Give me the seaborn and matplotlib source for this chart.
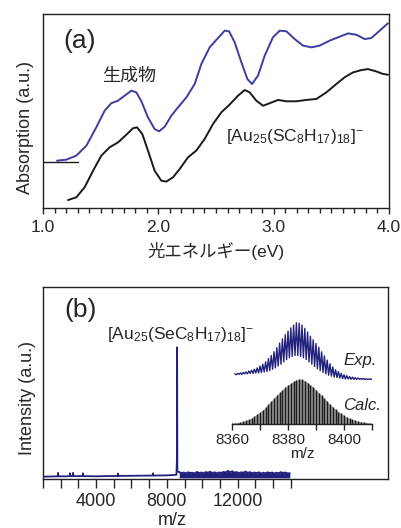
import numpy as np
import matplotlib
matplotlib.use('Agg')
import matplotlib.pyplot as plt
import seaborn as sns

# --- data ---
# (a) absorption spectra, photon energy (eV) vs absorption (a.u., 0-1 axis scale)
ev_product = [1.121, 1.202, 1.289, 1.376, 1.462, 1.535, 1.592, 1.650, 1.708, 1.766, 1.809,
              1.853, 1.910, 1.968, 2.006, 2.055, 2.113, 2.171, 2.243, 2.315, 2.373, 2.445,
              2.517, 2.575, 2.613, 2.662, 2.720, 2.772, 2.812, 2.864, 2.922, 2.994, 3.052,
              3.110, 3.182, 3.254, 3.327, 3.399, 3.486, 3.572, 3.645, 3.717, 3.789, 3.847,
              3.919, 3.991]
abs_product = [0.244, 0.249, 0.270, 0.321, 0.416, 0.502, 0.540, 0.553, 0.579, 0.605, 0.596,
               0.550, 0.467, 0.407, 0.395, 0.419, 0.476, 0.519, 0.570, 0.639, 0.742, 0.828,
               0.876, 0.914, 0.911, 0.854, 0.751, 0.665, 0.639, 0.682, 0.785, 0.880, 0.914,
               0.911, 0.871, 0.837, 0.828, 0.837, 0.863, 0.883, 0.900, 0.893, 0.871, 0.876,
               0.914, 0.952]
ev_ref = [1.217, 1.289, 1.361, 1.434, 1.506, 1.578, 1.650, 1.723, 1.780, 1.815, 1.861, 1.910,
          1.968, 2.026, 2.069, 2.127, 2.185, 2.257, 2.329, 2.402, 2.474, 2.546, 2.618, 2.691,
          2.749, 2.792, 2.850, 2.908, 2.965, 3.038, 3.110, 3.197, 3.283, 3.370, 3.457, 3.543,
          3.616, 3.688, 3.760, 3.818, 3.890, 3.948, 3.991]
abs_ref = [0.041, 0.055, 0.107, 0.192, 0.270, 0.313, 0.338, 0.378, 0.411, 0.416, 0.381, 0.296,
           0.192, 0.141, 0.136, 0.158, 0.201, 0.261, 0.296, 0.356, 0.433, 0.493, 0.533, 0.579,
           0.608, 0.596, 0.553, 0.527, 0.540, 0.557, 0.550, 0.550, 0.557, 0.562, 0.596, 0.639,
           0.674, 0.699, 0.711, 0.716, 0.704, 0.691, 0.687]
ev_baseline = [1.0, 1.303]
abs_baseline = [0.239, 0.239]

# (b) mass spectrum, m/z vs intensity (a.u.)
mz_low = [1000, 1400, 1830, 1850, 1870, 2300, 2510, 2530, 2550, 2680, 2700, 2720, 3240, 3260,
          3280, 4000, 4600, 5220, 5240, 5260, 6200, 7200, 7220, 7240, 8000, 8540]
int_low = [0.012, 0.013, 0.014, 0.032, 0.014, 0.014, 0.015, 0.03, 0.015, 0.015, 0.032, 0.015,
           0.015, 0.03, 0.015, 0.014, 0.015, 0.016, 0.028, 0.016, 0.017, 0.018, 0.03, 0.018,
           0.019, 0.022]
mz_peak = [8570, 8580, 8595]
int_peak = [0.1, 0.686, 0.04]
mz_high = np.arange(8700, 15001, 125)
int_high = [0.036, 0.031, 0.034, 0.030, 0.035, 0.032, 0.033, 0.029, 0.037, 0.031,
            0.034, 0.030, 0.036, 0.033, 0.038, 0.031, 0.035, 0.030, 0.034, 0.032,
            0.037, 0.034, 0.042, 0.036, 0.040, 0.033, 0.036, 0.031, 0.035, 0.033,
            0.039, 0.032, 0.036, 0.030, 0.034, 0.031, 0.035, 0.029, 0.033, 0.030,
            0.035, 0.031, 0.034, 0.029, 0.033, 0.030, 0.036, 0.031, 0.034, 0.030, 0.030]
band_floor = 0.006

# inset: isotope pattern
mz_calc = np.arange(8360, 8411)
int_calc = [0.02, 0.02, 0.03, 0.04, 0.06, 0.08, 0.10, 0.13, 0.17, 0.22,
            0.26, 0.31, 0.37, 0.44, 0.50, 0.57, 0.63, 0.69, 0.75, 0.80,
            0.85, 0.89, 0.93, 0.96, 0.98, 0.97, 0.94, 0.90, 0.85, 0.80,
            0.74, 0.68, 0.62, 0.56, 0.49, 0.43, 0.37, 0.32, 0.27, 0.23,
            0.19, 0.15, 0.12, 0.10, 0.08, 0.06, 0.05, 0.04, 0.03, 0.02, 0.02]
mz_exp_peaks = np.arange(8361, 8411)
int_exp_peaks = [1.09, 1.10, 1.11, 1.12, 1.13, 1.15, 1.17, 1.19, 1.22, 1.26,
                 1.30, 1.35, 1.42, 1.49, 1.57, 1.66, 1.76, 1.85, 1.94, 2.02,
                 2.09, 2.15, 2.20, 2.19, 2.15, 2.08, 2.00, 1.91, 1.83, 1.75,
                 1.67, 1.57, 1.48, 1.39, 1.31, 1.24, 1.18, 1.14, 1.10, 1.07,
                 1.05, 1.03, 1.02, 1.01, 1.00, 0.99, 0.99, 0.98, 0.98, 0.98]
mz_exp_troughs = np.arange(8361.5, 8410, 1.0)
int_exp_troughs = [1.07, 1.08, 1.08, 1.09, 1.09, 1.10, 1.10, 1.11, 1.11, 1.12,
                   1.13, 1.14, 1.16, 1.19, 1.22, 1.26, 1.30, 1.35, 1.40, 1.44,
                   1.47, 1.49, 1.49, 1.47, 1.44, 1.40, 1.35, 1.30, 1.25, 1.20,
                   1.16, 1.12, 1.09, 1.06, 1.04, 1.02, 1.01, 1.00, 0.99, 0.98,
                   0.98, 0.97, 0.97, 0.97, 0.97, 0.97, 0.97, 0.97, 0.97]

BLUE = '#3d3da0'
NAVY = '#22227e'
W, H = 401, 528

sns.set_theme(style='ticks')
plt.rcParams['font.family'] = ['Liberation Sans', 'Noto Sans CJK JP', 'DejaVu Sans']
plt.rcParams['mathtext.fontset'] = 'custom'
plt.rcParams['mathtext.rm'] = 'Liberation Sans'
plt.rcParams['mathtext.it'] = 'Liberation Sans:italic'
plt.rcParams['axes.linewidth'] = 1.0
plt.rcParams['axes.edgecolor'] = '#222222'


def fx(px):
    return px / W


def fy(py):
    return 1 - py / H


fig = plt.figure(figsize=(W / 100, H / 100), dpi=100)

# %% panel (a)
ax_a = fig.add_axes([fx(43), fy(208), (389 - 43) / W, (208 - 14) / H])
sns.lineplot(x=ev_product, y=abs_product, color=BLUE, lw=1.4, sort=False, estimator=None, ax=ax_a)
sns.lineplot(x=ev_ref, y=abs_ref, color='#1a1a1a', lw=1.4, sort=False, estimator=None, ax=ax_a)
sns.lineplot(x=ev_baseline, y=abs_baseline, color='#1a1a1a', lw=1.0, sort=False, estimator=None, ax=ax_a)
ax_a.set_xlim(1.0, 4.0)
ax_a.set_ylim(0, 1)
ax_a.set_xticks([1.0, 2.0, 3.0, 4.0])
ax_a.set_xticklabels(['1.0', '2.0', '3.0', '4.0'])
ax_a.set_xticks(np.arange(1.0, 4.01, 0.1), minor=True)
ax_a.set_yticks([])
ax_a.tick_params(axis='x', which='major', direction='out', length=4.5, width=1, labelsize=12.5, pad=4)
ax_a.tick_params(axis='x', which='minor', direction='out', length=3.5, width=1)
ax_a.set_xlabel('光エネルギー(eV)', fontsize=12.5, labelpad=5)
ax_a.set_ylabel('')

fig.text(fx(80), fy(41), '(a)', fontsize=19, ha='center', va='center')
fig.text(fx(129), fy(76), '生成物', fontsize=13, ha='center', va='center')
fig.text(fx(226), fy(137), r'[Au$_{25}$(SC$_{8}$H$_{17}$)$_{18}$]$^{-}$', fontsize=12.5,
         ha='left', va='center')
fig.text(fx(25), fy(128), 'Absorption (a.u.)', fontsize=13, rotation=90, ha='center', va='center')

# %% panel (b)
ax_b = fig.add_axes([fx(43), fy(479), (388 - 43) / W, (479 - 287) / H])
mz_all = list(mz_low) + list(mz_peak) + list(mz_high)
int_all = list(int_low) + list(int_peak) + list(int_high)
ax_b.fill_between(mz_high, band_floor, int_high, color=NAVY, lw=0)
sns.lineplot(x=mz_all, y=int_all, color=NAVY, lw=1.3, sort=False, estimator=None, ax=ax_b)
ax_b.set_xlim(1000, 20500)
ax_b.set_ylim(0, 1)
ax_b.set_xticks(np.arange(1000, 15001, 1000))
ax_b.set_xticklabels([str(v) if v in (4000, 8000, 12000) else '' for v in range(1000, 15001, 1000)])
ax_b.set_yticks([])
ax_b.tick_params(axis='x', direction='out', length=6.5, width=1, labelsize=13, pad=3.5)
ax_b.set_xlabel('m/z', fontsize=13, labelpad=0)
ax_b.xaxis.set_label_coords((172 - 43) / (388 - 43), -0.172)
ax_b.set_ylabel('')

fig.text(fx(81), fy(310), '(b)', fontsize=19, ha='center', va='center')
fig.text(fx(107), fy(335), r'[Au$_{25}$(SeC$_{8}$H$_{17}$)$_{18}$]$^{-}$', fontsize=12.5,
         ha='left', va='center')
fig.text(fx(27), fy(398), 'Intensity (a.u.)', fontsize=13, rotation=90, ha='center', va='center')

# %% inset
ax_in = fig.add_axes([fx(232), fy(424), (372 - 232) / W, (424 - 318) / H])
ax_in.patch.set_visible(False)
ax_in.fill_between(mz_calc, 0, int_calc, color='#9a9a9a', lw=0)
ax_in.vlines(mz_calc, 0, int_calc, color='#1a1a1a', lw=1.0)
mz_exp = []
int_exp = []
for i in range(len(mz_exp_peaks)):
    mz_exp.append(mz_exp_peaks[i])
    int_exp.append(int_exp_peaks[i])
    if i < len(mz_exp_troughs):
        mz_exp.append(mz_exp_troughs[i])
        int_exp.append(int_exp_troughs[i])
sns.lineplot(x=mz_exp, y=int_exp, color=NAVY, lw=1.0, sort=False, estimator=None, ax=ax_in)
ax_in.set_xlim(8360, 8410)
ax_in.set_ylim(0, (424 - 318) / 46)
for s in ['left', 'top', 'right']:
    ax_in.spines[s].set_visible(False)
ax_in.set_yticks([])
ax_in.set_xticks(np.arange(8360, 8411, 10))
ax_in.set_xticklabels(['8360', '', '8380', '', '8400', ''])
ax_in.tick_params(axis='x', direction='out', length=4.5, width=1, labelsize=11, pad=2)
ax_in.set_xlabel('m/z', fontsize=11, labelpad=0)
ax_in.set_ylabel('')

fig.text(fx(343), fy(360), 'Exp.', fontsize=12, style='italic', ha='left', va='center')
fig.text(fx(343), fy(406), 'Calc.', fontsize=12, style='italic', ha='left', va='center')

fig.savefig('out.png', dpi=100)
